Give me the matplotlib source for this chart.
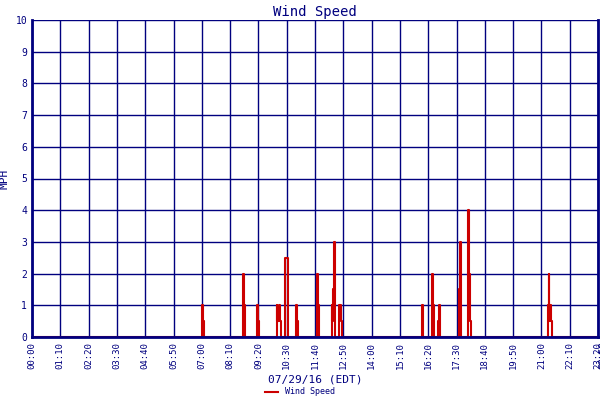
import matplotlib
matplotlib.use("Agg")
import matplotlib.pyplot as plt

minutes = [0, 421, 423, 425, 522, 524, 526, 556, 559, 561, 605, 607, 610, 613, 615,
           626, 632, 653, 655, 657, 704, 707, 709, 741, 743, 745, 747, 749,
           759, 762, 765, 767, 964, 966, 968, 989, 992, 994, 1004, 1006, 1008, 1010,
           1056, 1059, 1062, 1078, 1079, 1081, 1083, 1085,
           1276, 1278, 1280, 1282, 1283, 1285, 1400]
speed = [0, 1, 0.5, 0, 2, 1, 0, 1, 0.5, 0, 1, 0.5, 1, 0.5, 0,
         2.5, 0, 1, 0.5, 0, 2, 1, 0, 1, 0.5, 1.5, 3, 0,
         1, 1, 0.5, 0, 1, 0.5, 0, 2, 1, 0, 0.5, 1, 0.5, 0,
         1.5, 3, 0, 2, 4, 2, 0.5, 0,
         1, 2, 0.5, 1, 0.5, 0, 0]
tick_labels = ["00:00", "01:10", "02:20", "03:30", "04:40", "05:50", "07:00", "08:10",
               "09:20", "10:30", "11:40", "12:50", "14:00", "15:10", "16:20", "17:30",
               "18:40", "19:50", "21:00", "22:10", "23:20"]
end_label = "23:59"

def to_min(s):
    h, m = s.split(":")
    return int(h) * 60 + int(m)

navy = "#00007f"
fig = plt.figure(figsize=(6, 4), dpi=100)
ax = fig.add_axes([32/600, 63/400, 566/600, 317/400])
ax.plot(minutes, speed, drawstyle="steps-post", color="#cc0000", lw=1.5, label="Wind Speed")
ax.set_xlim(0, 1400)
ax.set_ylim(0, 10)
ax.set_yticks(range(0, 11))
ax.set_xticks([to_min(t) for t in tick_labels])
ax.set_xticklabels(tick_labels, rotation=90, family="DejaVu Sans Mono", fontsize=6.5, color=navy)
ax.text(1.0, -0.012, end_label, transform=ax.transAxes, rotation=90, ha="left", va="top",
        family="DejaVu Sans Mono", fontsize=6.5, color=navy)
ax.tick_params(axis="y", labelsize=7, colors=navy, length=0)
ax.tick_params(axis="x", length=0)
for lab in ax.get_yticklabels():
    lab.set_family("DejaVu Sans Mono")
ax.grid(True, color=navy, lw=1)
for s in ax.spines.values():
    s.set_color(navy)
    s.set_linewidth(2)
ax.spines["top"].set_visible(False)
ax.set_title("Wind Speed", color=navy, family="DejaVu Sans Mono", fontsize=10, pad=3)
ax.set_ylabel("MPH", color=navy, family="DejaVu Sans Mono", fontsize=8)
ax.set_xlabel("07/29/16 (EDT)", color=navy, family="DejaVu Sans Mono", fontsize=8, labelpad=4)
fig.legend(loc="lower center", bbox_to_anchor=(0.5, -0.01), frameon=False,
           prop={"family": "DejaVu Sans Mono", "size": 6}, labelcolor=navy, handlelength=1.5)
fig.savefig("out.png", dpi=100)
